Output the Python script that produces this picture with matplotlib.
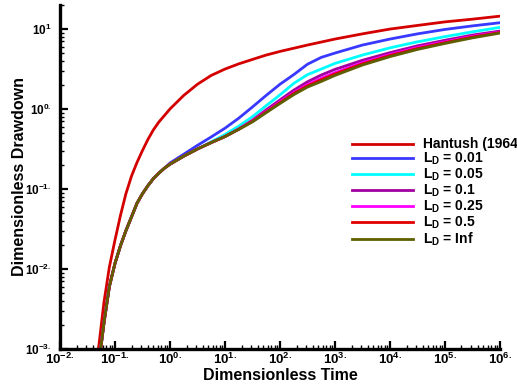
import numpy as np
import matplotlib
matplotlib.use("Agg")
import matplotlib.pyplot as plt
from matplotlib.ticker import FixedLocator, LogLocator, NullFormatter

plt.rcParams['font.family'] = ['Liberation Sans', 'DejaVu Sans']
plt.rcParams['font.weight'] = 'bold'
plt.rcParams['mathtext.fontset'] = 'custom'
plt.rcParams['mathtext.rm'] = 'Liberation Sans:bold'
plt.rcParams['mathtext.bf'] = 'Liberation Sans:bold'
plt.rcParams['mathtext.it'] = 'Liberation Sans:bold'

# Hantush (1964) solution
t_hantush = [0.05, 0.063, 0.079, 0.1, 0.126, 0.158, 0.2, 0.251, 0.316, 0.398,
             0.501, 0.631, 0.794, 1.0, 1.78, 3.16, 5.62, 10, 17.8, 31.6, 56.2,
             100, 316, 1000, 3160, 1e4, 3.16e4, 1e5, 3.16e5, 1e6]
s_hantush = [0.00098, 0.0038, 0.0105, 0.0229, 0.0468, 0.087, 0.145, 0.214,
             0.302, 0.417, 0.55, 0.69, 0.83, 1.0, 1.48, 2.04, 2.63, 3.16, 3.67,
             4.17, 4.73, 5.25, 6.31, 7.5, 8.71, 10.0, 11.1, 12.3, 13.3, 14.5]

# shared time grid for the L_D curves
t = [0.055, 0.063, 0.079, 0.1, 0.126, 0.158, 0.2, 0.251, 0.316, 0.398, 0.501,
     0.631, 0.794, 1.0, 1.78, 3.16, 5.62, 10, 17.8, 31.6, 56.2, 100, 178, 316,
     562, 1000, 3160, 1e4, 3.16e4, 1e5, 3.16e5, 1e6]

early = [0.001, 0.0021, 0.006, 0.0117, 0.0195, 0.030, 0.0447, 0.066, 0.087,
         0.11, 0.135, 0.158, 0.182]

s_inf = early + [0.204, 0.257, 0.316, 0.38, 0.452, 0.556, 0.69, 0.90, 1.17,
                 1.51, 1.88, 2.21, 2.63, 3.55, 4.52, 5.56, 6.61, 7.76, 8.91]
s_001 = early + [0.211, 0.272, 0.351, 0.447, 0.575, 0.767, 1.06, 1.48, 2.04,
                 2.69, 3.63, 4.42, 5.01, 6.31, 7.5, 8.71, 9.89, 10.96, 12.0]
s_005 = early + [0.204, 0.257, 0.316, 0.389, 0.479, 0.61, 0.80, 1.10, 1.50,
                 2.09, 2.69, 3.16, 3.72, 4.73, 5.82, 6.92, 8.04, 9.23, 10.5]
s_01 = early + [0.204, 0.257, 0.316, 0.38, 0.452, 0.562, 0.724, 0.977, 1.30,
                1.72, 2.19, 2.66, 3.13, 4.07, 5.07, 6.17, 7.24, 8.41, 9.44]
s_025 = early + [0.204, 0.257, 0.316, 0.38, 0.452, 0.56, 0.708, 0.933, 1.23,
                 1.60, 2.02, 2.43, 2.85, 3.80, 4.79, 5.89, 6.92, 8.13, 9.18]
s_05 = early + [0.204, 0.257, 0.316, 0.38, 0.452, 0.557, 0.70, 0.916, 1.20,
                1.56, 1.95, 2.32, 2.74, 3.67, 4.66, 5.71, 6.76, 7.94, 9.06]

labels = ['Hantush (1964)', r'$\mathbf{L_D}$ = 0.01', r'$\mathbf{L_D}$ = 0.05',
          r'$\mathbf{L_D}$ = 0.1', r'$\mathbf{L_D}$ = 0.25', r'$\mathbf{L_D}$ = 0.5',
          r'$\mathbf{L_D}$ = Inf']
colors = ['#d40000', '#3838ff', '#00ffff', '#a000a0', '#ff00ff', '#e00000', '#5f5f00']

xticks = [1e-2, 1e-1, 1e0, 1e1, 1e2, 1e3, 1e4, 1e5, 1e6]
xticklabels = [r'$\mathbf{10^{-2.}}$', r'$\mathbf{10^{-1.}}$', r'$\mathbf{10^{0.}}$',
               r'$\mathbf{10^{1.}}$', r'$\mathbf{10^{2.}}$', r'$\mathbf{10^{3.}}$',
               r'$\mathbf{10^{4.}}$', r'$\mathbf{10^{5.}}$', r'$\mathbf{10^{6.}}$']
yticks = [1e-3, 1e-2, 1e-1, 1e0, 1e1]
yticklabels = [r'$\mathbf{10^{-3.}}$', r'$\mathbf{10^{-2.}}$', r'$\mathbf{10^{-1.}}$',
               r'$\mathbf{10^{0.}}$', r'$\mathbf{10^{1}}$']

fig = plt.figure(figsize=(5.17, 3.85), dpi=100)
ax = fig.add_axes([0.116, 0.094, 0.851, 0.893])

ax.plot(t_hantush, s_hantush, color=colors[0], lw=2.0, label=labels[0])
series = [s_001, s_005, s_01, s_025, s_05, s_inf]
for s, c, lab in zip(series, colors[1:], labels[1:]):
    ax.plot(t, s, color=c, lw=2.0, label=lab)

ax.set_xscale('log')
ax.set_yscale('log')
ax.set_xlim(1e-2, 1e6)
ax.set_ylim(1e-3, 20)

ax.xaxis.set_major_locator(FixedLocator(xticks))
ax.set_xticklabels(xticklabels, fontsize=9.5)
ax.yaxis.set_major_locator(FixedLocator(yticks))
ax.set_yticklabels(yticklabels, fontsize=8.5)
ax.xaxis.set_minor_locator(LogLocator(base=10, subs=np.arange(2, 10), numticks=20))
ax.yaxis.set_minor_locator(LogLocator(base=10, subs=np.arange(2, 10), numticks=20))
ax.xaxis.set_minor_formatter(NullFormatter())
ax.yaxis.set_minor_formatter(NullFormatter())

for side in ['top', 'right']:
    ax.spines[side].set_visible(False)
for side in ['left', 'bottom']:
    ax.spines[side].set_linewidth(2.4)
ax.tick_params(which='major', direction='in', length=6, width=1.6)
ax.tick_params(which='minor', direction='in', length=3, width=1.0)
ax.tick_params(axis='x', which='major', pad=2)
ax.tick_params(axis='y', which='major', pad=6)

ax.set_xlabel('Dimensionless Time', fontsize=11.5, fontweight='bold', labelpad=1)
ax.set_ylabel('Dimensionless Drawdown', fontsize=11.5, fontweight='bold', labelpad=-1)

leg = ax.legend(loc='upper left', bbox_to_anchor=(0.664, 0.615), frameon=False,
                fontsize=10, handlelength=4.4, handletextpad=0.7,
                labelspacing=-0.03, borderaxespad=0, borderpad=0)

fig.savefig('out.png', dpi=100)
